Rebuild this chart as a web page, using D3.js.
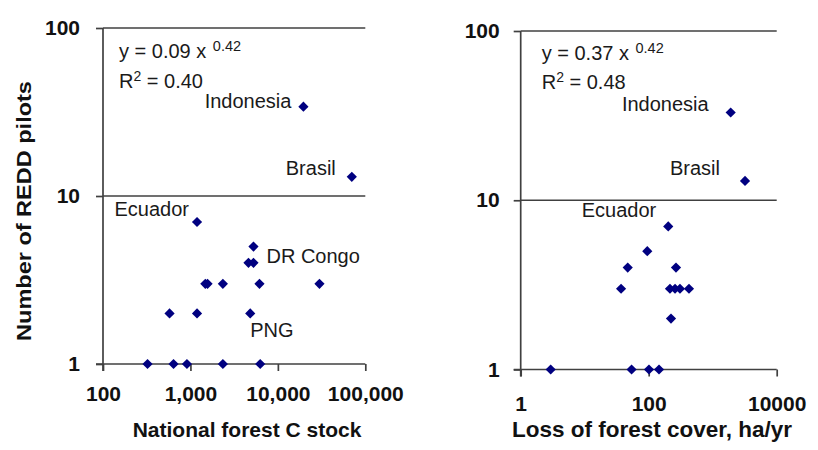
<!DOCTYPE html>
<html>
<head>
<meta charset="utf-8">
<script src="https://cdn.jsdelivr.net/npm/d3@7"></script>
<style>
  html, body { margin: 0; padding: 0; background: #fff; }
  svg { display: block; font-family: "Liberation Sans", Arial, sans-serif; }
</style>
</head>
<body>
<svg id="chart" width="818" height="450"></svg>
<script>
// REDD pilots per country vs national forest carbon stock
const stockValues  = [323, 641, 912, 2350, 6280, 577, 1190, 4830, 1480, 1570, 2350, 6160, 29900, 4610, 5260, 5260, 1190, 19600, 70100];
const stockPilots  = [1, 1, 1, 1, 1, 2, 2, 2, 3, 3, 3, 3, 3, 4, 4, 5, 7, 34, 13];
const stockTicks   = [100, 1000, 10000, 100000];

// REDD pilots per country vs annual loss of forest cover
const lossValues   = [2.94, 54, 101, 145, 223, 37, 215, 258, 308, 426, 47, 267, 95, 202, 1910, 3200];
const lossPilots   = [1, 1, 1, 1, 2, 3, 3, 3, 3, 3, 4, 4, 5, 7, 33, 13];
const lossTicks    = [1, 100, 10000];

const pilotTicks   = [1, 10, 100];

// country names attached to a point index of each panel
const stockNames   = ["Indonesia", "Brasil", "Ecuador", "DR Congo", "PNG"];
const stockNameIdx = [17, 18, 16, 14, 7];
const lossNames    = ["Indonesia", "Brasil", "Ecuador"];
const lossNameIdx  = [14, 15, 13];

// fitted power laws
const stockFit = { coef: "0.09", exp: "0.42", r2: "0.40" };
const lossFit  = { coef: "0.37", exp: "0.42", r2: "0.48" };

const svg = d3.select("#chart");
const lineColor = "#404040";
const textColor = "#1a1a1a";
const boldColor = "#111111";
const markColor = "#000080";

// label placement relative to the point it names: [dx, dy, anchor]
const stockLabelPos = {
  "Indonesia": [-12, 1, "end"],
  "Brasil":    [-16, -2, "end"],
  "Ecuador":   [-8, -6, "end"],
  "DR Congo":  [13, 0, "start"],
  "PNG":       [0, 24, "start"]
};
const lossLabelPos = {
  "Indonesia": [-22, -1, "end"],
  "Brasil":    [-25, -6, "end"],
  "Ecuador":   [-12, -9, "end"]
};

function drawPanel(cfg) {
  const x = d3.scaleLog().domain(cfg.xDomain).range(cfg.xRange);
  const y = d3.scaleLog().domain([1, 100]).range(cfg.yRange);
  const g = svg.append("g");

  // horizontal reference lines at 10 and 100
  g.selectAll("line.grid").data([10, 100]).join("line")
    .attr("class", "grid")
    .attr("x1", cfg.xRange[0]).attr("x2", cfg.xRange[1])
    .attr("y1", d => y(d)).attr("y2", d => y(d))
    .attr("stroke", lineColor).attr("stroke-width", 1.7);

  // x axis
  const xAxis = g.append("g")
    .attr("transform", `translate(0,${cfg.yRange[0]})`)
    .call(d3.axisBottom(x).tickValues(cfg.xTicks).tickFormat(cfg.xFormat)
      .tickSize(7).tickSizeOuter(0).tickPadding(cfg.xPad));
  // y axis
  const yAxis = g.append("g")
    .attr("transform", `translate(${cfg.xRange[0]},0)`)
    .call(d3.axisLeft(y).tickValues(pilotTicks).tickFormat(d3.format("d"))
      .tickSize(7).tickSizeOuter(0).tickPadding(cfg.yPad));

  [xAxis, yAxis].forEach(a => {
    a.select(".domain").attr("stroke", lineColor).attr("stroke-width", 1.7);
    a.selectAll(".tick line").attr("stroke", lineColor).attr("stroke-width", 1.7);
    a.selectAll(".tick text")
      .attr("fill", boldColor)
      .style("font-size", "21px").style("font-weight", "bold")
      .style("font-family", "'Liberation Sans', Arial, sans-serif");
  });
  // the x axis line also runs past the y axis by one tick length
  xAxis.select(".domain").attr("d", `M${cfg.xRange[0] - 7},0H${cfg.xRange[1]}`);
  yAxis.select(".domain").attr("d", `M0,${cfg.yRange[1]}V${cfg.yRange[0] + 7}`);

  // points
  const pts = cfg.xs.map((v, i) => ({ x: v, y: cfg.ys[i] }));
  const diamond = d3.symbol(d3.symbolSquare, 52);
  g.selectAll("path.pt").data(pts).join("path")
    .attr("class", "pt")
    .attr("d", diamond)
    .attr("transform", d => `translate(${x(d.x)},${y(d.y)}) rotate(45)`)
    .attr("fill", markColor);

  // country names
  g.selectAll("text.country").data(cfg.names).join("text")
    .attr("class", "country")
    .attr("x", (n, i) => x(pts[cfg.nameIdx[i]].x) + cfg.labelPos[n][0])
    .attr("y", (n, i) => y(pts[cfg.nameIdx[i]].y) + cfg.labelPos[n][1])
    .attr("text-anchor", n => cfg.labelPos[n][2])
    .attr("fill", textColor)
    .style("font-size", "20px")
    .text(n => n);

  // fitted equation and R²
  const eq = g.append("text")
    .attr("x", cfg.xRange[0] + cfg.eqDx).attr("y", cfg.yRange[1] + cfg.eqDy[0])
    .attr("fill", textColor).style("font-size", "20px");
  eq.append("tspan").text(`y = ${cfg.fit.coef} x `);
  eq.append("tspan").attr("dx", 1).attr("dy", -7).style("font-size", "14.5px").text(cfg.fit.exp);

  const r2 = g.append("text")
    .attr("x", cfg.xRange[0] + cfg.eqDx).attr("y", cfg.yRange[1] + cfg.eqDy[1])
    .attr("fill", textColor).style("font-size", "20px");
  r2.append("tspan").text("R");
  r2.append("tspan").attr("dy", -7).style("font-size", "14px").text("2");
  r2.append("tspan").attr("dy", 7).text(` = ${cfg.fit.r2}`);

  // axis title
  g.append("text")
    .attr("x", cfg.titleX).attr("y", 437)
    .attr("text-anchor", "middle")
    .attr("fill", boldColor)
    .style("font-size", cfg.titleSize).style("font-weight", "bold")
    .text(cfg.title);
}

drawPanel({
  xDomain: [100, 100000], xRange: [103, 365.3], yRange: [364, 28],
  xTicks: stockTicks, xFormat: d3.format(","), xPad: 15, yPad: 16,
  xs: stockValues, ys: stockPilots,
  names: stockNames, nameIdx: stockNameIdx, labelPos: stockLabelPos,
  fit: stockFit, eqDx: 16, eqDy: [30, 60],
  title: "National forest C stock", titleX: 247, titleSize: "21px"
});

drawPanel({
  xDomain: [1, 10000], xRange: [520.7, 776.7], yRange: [369.5, 31],
  xTicks: lossTicks, xFormat: d3.format("d"), xPad: 20, yPad: 14,
  xs: lossValues, ys: lossPilots,
  names: lossNames, nameIdx: lossNameIdx, labelPos: lossLabelPos,
  fit: lossFit, eqDx: 21, eqDy: [29, 58],
  title: "Loss of forest cover, ha/yr", titleX: 652, titleSize: "22.5px"
});

// shared y title
svg.append("text")
  .attr("transform", "translate(31,211) rotate(-90) scale(1.12,1)")
  .attr("text-anchor", "middle")
  .attr("fill", boldColor)
  .style("font-size", "21px").style("font-weight", "bold")
  .text("Number of REDD pilots");
</script>
</body>
</html>
